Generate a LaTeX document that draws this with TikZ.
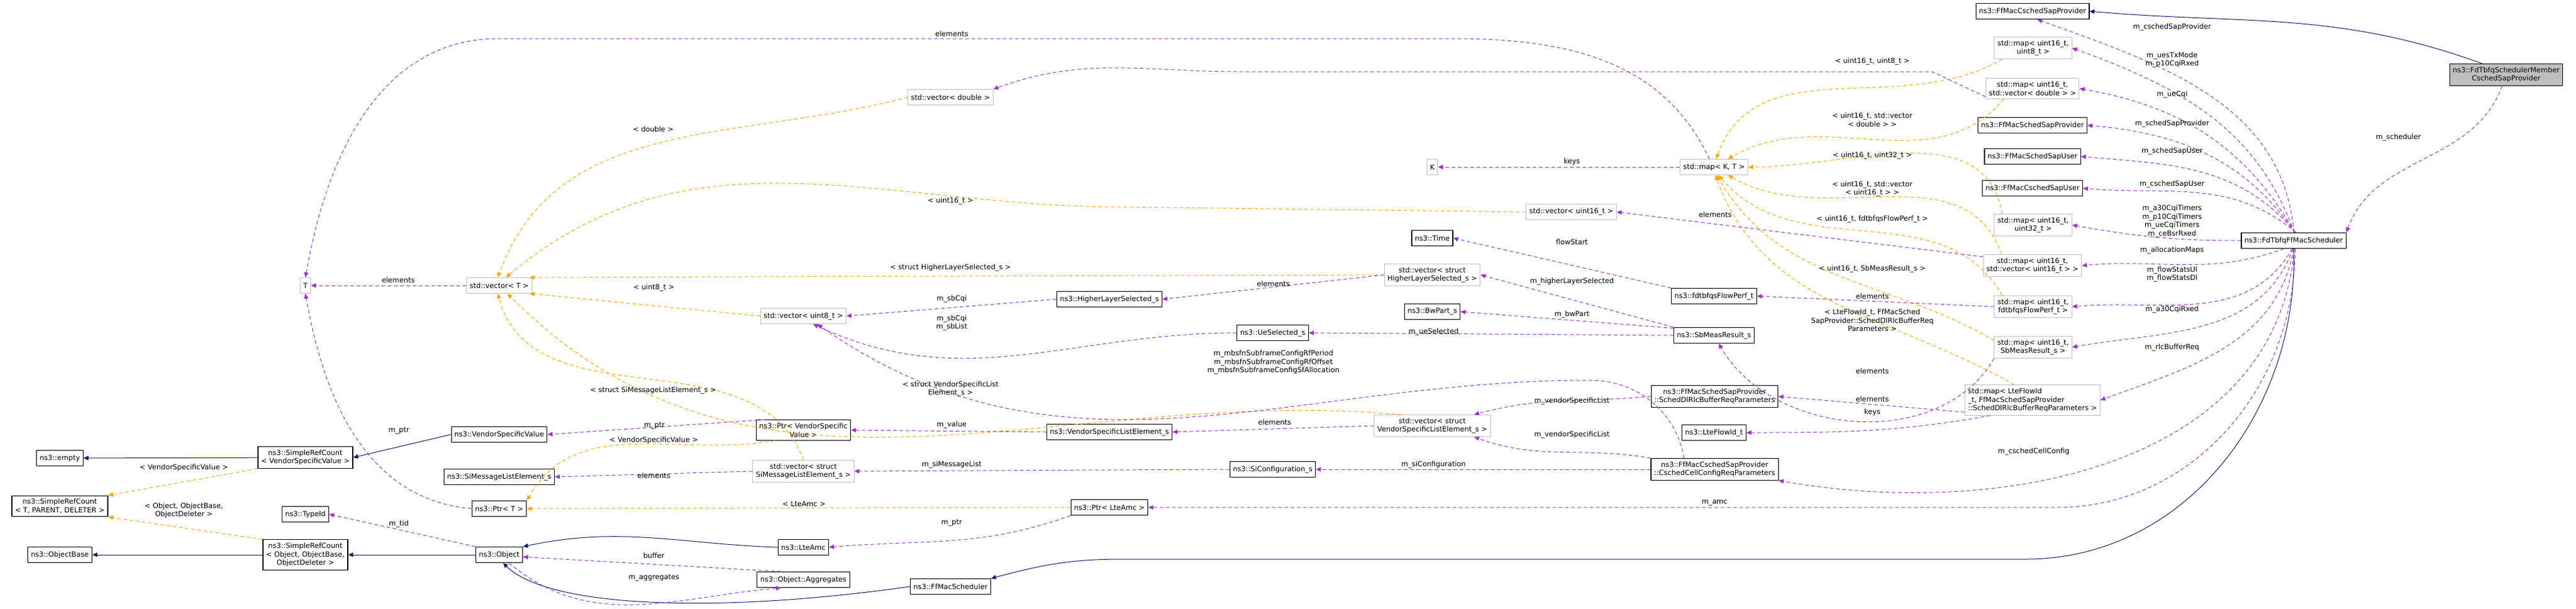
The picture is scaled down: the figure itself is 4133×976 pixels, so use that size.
\documentclass[tikz,border=0pt]{standalone}
\usepackage{fontspec}
\setmainfont{DejaVu Sans}
\usetikzlibrary{arrows.meta}
\definecolor{usecol}{HTML}{9A32CD}
\definecolor{tplcol}{HTML}{FFA500}
\definecolor{inhcol}{HTML}{191970}
\begin{document}
\begin{tikzpicture}[x=0.25pt,y=-0.25pt,
    every node/.style={font=\fontsize{2.85}{3.4}\selectfont},
    cls/.style={rectangle,draw=black,line width=0.28pt,minimum height=6.25pt,inner xsep=1.25pt,inner ysep=1.25pt,align=center},
    tpl/.style={rectangle,draw=black!25,line width=0.25pt,minimum height=6.25pt,inner xsep=1.25pt,inner ysep=1.25pt,align=center},
    main/.style={cls,fill=black!25},
    lbl/.style={inner sep=0.25pt,align=center},
    use/.style={draw=usecol,dash pattern=on 1.5pt off 1pt,line width=0.25pt,-{Triangle[length=2pt,width=1.75pt]}},
    tmpl/.style={draw=tplcol,dash pattern=on 1.5pt off 1pt,line width=0.25pt,-{Triangle[length=2pt,width=1.75pt]}},
    inh/.style={draw=inhcol,line width=0.25pt,-{Triangle[length=2pt,width=1.75pt]}}]
  \useasboundingbox (0,0) rectangle (4133,976);

  % right column
  \node (member) [main] at (4021,120) {ns3::FdTbfqSchedulerMember\\CschedSapProvider};
  \node (sched) [cls] at (3680,386) {ns3::FdTbfqFfMacScheduler};
  \node (cschedprov) [cls] at (3261,18) {ns3::FfMacCschedSapProvider};
  \node (mapu8) [tpl] at (3262,77) {std::map< uint16\_t,\\uint8\_t >};
  \node (mapvd) [tpl] at (3261,142) {std::map< uint16\_t,\\std::vector< double > >};
  \node (schedprov) [cls] at (3261,201) {ns3::FfMacSchedSapProvider};
  \node (schedusr) [cls] at (3261,251) {ns3::FfMacSchedSapUser};
  \node (cschedusr) [cls] at (3261,302) {ns3::FfMacCschedSapUser};
  \node (mapu32) [tpl] at (3262,361) {std::map< uint16\_t,\\uint32\_t >};
  \node (mapvu16) [tpl] at (3261,426) {std::map< uint16\_t,\\std::vector< uint16\_t > >};
  \node (mapflow) [tpl] at (3262,492) {std::map< uint16\_t,\\fdtbfqsFlowPerf\_t >};
  \node (mapsb) [tpl] at (3262,557) {std::map< uint16\_t,\\SbMeasResult\_s >};
  \node (mapfid) [tpl,align=left] at (3261,642) {std::map< LteFlowId\\\_t, FfMacSchedSapProvider\\::SchedDlRlcBufferReqParameters >};

  % middle
  \node (mapkt) [tpl] at (2750,268) {std::map< K, T >};
  \node (keyk) [tpl] at (2298,268) {K};
  \node (vecd) [tpl] at (1525,156) {std::vector< double >};
  \node (vecu16) [tpl] at (2521,340) {std::vector< uint16\_t >};
  \node (time) [cls] at (2298,382) {ns3::Time};
  \node (vechls) [tpl] at (2298,441) {std::vector< struct\\HigherLayerSelected\_s >};
  \node (hls) [cls] at (1780,480) {ns3::HigherLayerSelected\_s};
  \node (flowperf) [cls] at (2750,475) {ns3::fdtbfqsFlowPerf\_t};
  \node (bwpart) [cls] at (2298,500) {ns3::BwPart\_s};
  \node (sbmeas) [cls] at (2750,538) {ns3::SbMeasResult\_s};
  \node (uesel) [cls] at (2042,534) {ns3::UeSelected\_s};
  \node (dlrlc) [cls] at (2751,636) {ns3::FfMacSchedSapProvider\\::SchedDlRlcBufferReqParameters};
  \node (fid) [cls] at (2750,694) {ns3::LteFlowId\_t};
  \node (vecvsle) [tpl] at (2298,683) {std::vector< struct\\VendorSpecificListElement\_s >};
  \node (vsle) [cls] at (1780,693) {ns3::VendorSpecificListElement\_s};
  \node (cellcfg) [cls] at (2751,753) {ns3::FfMacCschedSapProvider\\::CschedCellConfigReqParameters};
  \node (sicfg) [cls] at (2042,753) {ns3::SiConfiguration\_s};
  \node (ptramc) [cls] at (1780,814) {ns3::Ptr< LteAmc >};
  \node (ffsched) [cls] at (1525,941) {ns3::FfMacScheduler};

  % left
  \node (tparam) [tpl] at (490,458) {T};
  \node (vect) [tpl] at (801,458) {std::vector< T >};
  \node (vecu8) [tpl] at (1289,507) {std::vector< uint8\_t >};
  \node (ptrvsv) [cls] at (1289,690) {ns3::Ptr< VendorSpecific\\Value >};
  \node (vsv) [cls] at (801,697) {ns3::VendorSpecificValue};
  \node (srcvsv) [cls] at (490,734) {ns3::SimpleRefCount\\< VendorSpecificValue >};
  \node (empty) [cls] at (96,735) {ns3::empty};
  \node (sim) [cls] at (801,765) {ns3::SiMessageListElement\_s};
  \node (vecsim) [tpl] at (1289,756) {std::vector< struct\\SiMessageListElement\_s >};
  \node (srctpd) [cls] at (96,812) {ns3::SimpleRefCount\\< T, PARENT, DELETER >};
  \node (ptrt) [cls] at (801,816) {ns3::Ptr< T >};
  \node (typeid) [cls] at (490,825) {ns3::TypeId};
  \node (srcobj) [cls] at (490,890) {ns3::SimpleRefCount\\< Object, ObjectBase,\\ObjectDeleter >};
  \node (objbase) [cls] at (96,890) {ns3::ObjectBase};
  \node (object) [cls] at (801,890) {ns3::Object};
  \node (lteamc) [cls] at (1289,878) {ns3::LteAmc};
  \node (aggr) [cls] at (1289,930) {ns3::Object::Aggregates};

  \coordinate (ta) at (2330,62);
  \coordinate (tb) at (800,62);
  \coordinate (da) at (1990,115);
  \coordinate (ua) at (1800,332);
  \coordinate (ia) at (3250,897);
  \coordinate (ib) at (1800,897);
  \coordinate (aa) at (3300,814);
  \coordinate (ma) at (2550,610);

  % inheritance
  \draw[inh] (member.155) to[out=160,in=-5] (cschedprov.east);
  \draw[inh] (srcvsv) -- (empty);
  \draw[inh] (vsv.west) -- (srcvsv.east);
  \draw[inh] (srcobj) -- (objbase);
  \draw[inh] (object) -- (srcobj);
  \draw[inh] (lteamc.west) to[out=178,in=12] (object.north east);
  \draw[inh] (ffsched.west) .. controls (1150,985) and (880,975) .. (object.-65);
  \draw[inh] (sched.south) to[out=-88,in=0] (ia) -- (ib) to[out=180,in=15] (ffsched.north east);

  % templates
  \draw[tmpl] (srcvsv.south west) -- (srctpd.north east);
  \draw[tmpl] (srcobj.north west) -- (srctpd.south east);
  \draw[tmpl] (ptrvsv.200) to[out=190,in=60] (ptrt.north east);
  \draw[tmpl] (ptramc.west) -- (ptrt.east);
  \draw[tmpl] (vecu8.west) -- (vect.-15);
  \draw[tmpl] (vecsim.north) to[out=110,in=-75] (vect.-100);
  \draw[tmpl] (vecvsle.160) to[out=175,in=-45] (vect.-45);
  \draw[tmpl] (vechls.west) -- (vect.15);
  \draw[tmpl] (vecu16.west) -- (ua) to[out=180,in=40] (vect.50);
  \draw[tmpl] (vecd.west) to[out=195,in=70] (vect.100);
  \draw[tmpl] (mapu8.200) to[out=210,in=70] (mapkt.75);
  \draw[tmpl] (mapvd.200) to[out=230,in=30] (mapkt.30);
  \draw[tmpl] (mapu32.160) to[out=100,in=0] (mapkt.east);
  \draw[tmpl] (mapvu16.160) to[out=110,in=-30] (mapkt.-30);
  \draw[tmpl] (mapflow.160) to[out=120,in=-50] (mapkt.-60);
  \draw[tmpl] (mapsb.170) to[out=150,in=-60] (mapkt.-70);
  \draw[tmpl] (mapfid.140) to[out=150,in=-70] (mapkt.-80);

  % members
  \draw[use] (vect.west) -- (tparam.east);
  \draw[use] (mapkt.120) to[out=115,in=0] (ta) -- (tb) to[out=180,in=80] (tparam.north);
  \draw[use] (mapkt.west) -- (keyk.east);
  \draw[use] (ptrt.west) to[out=175,in=-80] (tparam.south);
  \draw[use] (ptrvsv.165) -- (vsv.east);
  \draw[use] (object.north west) -- (typeid.east);
  \draw[use] (aggr.160) -- (object.-5);
  \draw[use] (object.-40) to[out=-40,in=185] (aggr.200);
  \draw[use] (ptramc.south west) to[out=200,in=5] (lteamc.east);
  \draw[use] (vecsim.west) -- (sim.east);
  \draw[use] (vsle.west) -- (ptrvsv.east);
  \draw[use] (vecvsle.west) -- (vsle.east);
  \draw[use] (sicfg.west) -- (vecsim.east);
  \draw[use] (cellcfg.west) -- (sicfg.east);
  \draw[use] (cellcfg.north west) to[out=170,in=-20] (vecvsle.-15);
  \draw[use] (dlrlc.west) to[out=185,in=15] (vecvsle.15);
  \draw[use] (cellcfg.160) to[out=100,in=0] (ma) to[out=180,in=-35] (vecu8.-30);
  \draw[use] (uesel.west) to[out=180,in=-25] (vecu8.-40);
  \draw[use] (hls.west) -- (vecu8.east);
  \draw[use] (vechls.west) -- (hls.east);
  \draw[use] (sbmeas.north west) -- (vechls.east);
  \draw[use] (sbmeas.170) -- (bwpart.east);
  \draw[use] (sbmeas.west) -- (uesel.east);
  \draw[use] (flowperf.north west) -- (time.east);
  \draw[use] (mapvu16.170) -- (vecu16.east);
  \draw[use] (mapvd.190) -- (3100,115) -- (da) to[out=180,in=20] (vecd.north east);
  \draw[use] (mapflow.west) -- (flowperf.east);
  \draw[use] (mapsb.south west) to[out=-120,in=-60] (sbmeas.-60);
  \draw[use] (mapfid.190) -- (dlrlc.east);
  \draw[use] (mapfid.200) to[out=190,in=0] (fid.east);

  % scheduler members
  \draw[use] (member.-110) to[out=-110,in=70] (sched.north east);
  \draw[use] (sched.88) to[out=95,in=-20] (cschedprov.-60);
  \draw[use] (sched.85) to[out=110,in=-20] (mapu8.east);
  \draw[use] (sched.82) to[out=120,in=-10] (mapvd.east);
  \draw[use] (sched.80) to[out=125,in=-5] (schedprov.east);
  \draw[use] (sched.77) to[out=130,in=-5] (schedusr.east);
  \draw[use] (sched.74) to[out=140,in=-5] (cschedusr.east);
  \draw[use] (sched.west) to[out=180,in=-10] (mapu32.east);
  \draw[use] (sched.-140) to[out=200,in=5] (mapvu16.east);
  \draw[use] (sched.-100) to[out=240,in=5] (mapflow.east);
  \draw[use] (sched.-95) to[out=250,in=10] (mapsb.east);
  \draw[use] (sched.-90) to[out=260,in=20] (mapfid.east);
  \draw[use] (sched.-85) to[out=265,in=-10] (cellcfg.south east);
  \draw[use] (sched.-80) to[out=270,in=0] (aa) -- (ptramc.east);

  % labels
  \node (l1) [lbl] at (639,449) {elements};
  \node (l2) [lbl] at (1527,54) {elements};
  \node (l3) [lbl] at (2522,259) {keys};
  \node (l4) [lbl] at (1049,461) {< uint8\_t >};
  \node (l5) [lbl] at (1048,207) {< double >};
  \node (l6) [lbl] at (1525,323) {< uint16\_t >};
  \node (l7) [lbl] at (1525,429) {< struct HigherLayerSelected\_s >};
  \node (l8) [lbl] at (1048,626) {< struct SiMessageListElement\_s >};
  \node (l9) [lbl] at (1525,624) {< struct VendorSpecificList\\Element\_s >};
  \node (l10) [lbl] at (1050,683) {m\_ptr};
  \node (l11) [lbl] at (1049,706) {< VendorSpecificValue >};
  \node (l12) [lbl] at (640,691) {m\_ptr};
  \node (l13) [lbl] at (295,750) {< VendorSpecificValue >};
  \node (l14) [lbl] at (295,819) {< Object, ObjectBase,\\ObjectDeleter >};
  \node (l15) [lbl] at (1049,763) {elements};
  \node (l16) [lbl] at (1290,808) {< LteAmc >};
  \node (l17) [lbl] at (640,840) {m\_tid};
  \node (l18) [lbl] at (1049,891) {buffer};
  \node (l19) [lbl] at (1049,927) {m\_aggregates};
  \node (l20) [lbl] at (2043,455) {elements};
  \node (l21) [lbl] at (1527,479) {m\_sbCqi};
  \node (l22) [lbl] at (2522,388) {flowStart};
  \node (l23) [lbl] at (2522,451) {m\_higherLayerSelected};
  \node (l24) [lbl] at (2752,344) {elements};
  \node (l25) [lbl] at (1527,518) {m\_sbCqi\\m\_sbList};
  \node (l26) [lbl] at (2522,504) {m\_bwPart};
  \node (l27) [lbl] at (2300,532) {m\_ueSelected};
  \node (l28) [lbl] at (2043,581) {m\_mbsfnSubframeConfigRfPeriod\\m\_mbsfnSubframeConfigRfOffset\\m\_mbsfnSubframeConfigSfAllocation};
  \node (l29) [lbl] at (1527,681) {m\_value};
  \node (l30) [lbl] at (2045,677) {elements};
  \node (l31) [lbl] at (2522,643) {m\_vendorSpecificList};
  \node (l32) [lbl] at (2522,697) {m\_vendorSpecificList};
  \node (l33) [lbl] at (1527,745) {m\_siMessageList};
  \node (l34) [lbl] at (2300,745) {m\_siConfiguration};
  \node (l35) [lbl] at (2751,807) {m\_amc};
  \node (l36) [lbl] at (1527,839) {m\_ptr};
  \node (l37) [lbl] at (3004,99) {< uint16\_t, uint8\_t >};
  \node (l38) [lbl] at (3004,192) {< uint16\_t, std::vector\\< double > >};
  \node (l39) [lbl] at (3004,250) {< uint16\_t, uint32\_t >};
  \node (l40) [lbl] at (3004,303) {< uint16\_t, std::vector\\< uint16\_t > >};
  \node (l41) [lbl] at (3004,352) {< uint16\_t, fdtbfqsFlowPerf\_t >};
  \node (l42) [lbl] at (3004,431) {< uint16\_t, SbMeasResult\_s >};
  \node (l43) [lbl] at (3004,475) {elements};
  \node (l44) [lbl] at (3004,514) {< LteFlowId\_t, FfMacSched\\SapProvider::SchedDlRlcBufferReq\\Parameters >};
  \node (l45) [lbl] at (3004,595) {elements};
  \node (l46) [lbl] at (3004,640) {elements};
  \node (l47) [lbl] at (3004,661) {keys};
  \node (l48) [lbl] at (3263,724) {m\_cschedCellConfig};
  \node (l49) [lbl] at (3485,44) {m\_cschedSapProvider};
  \node (l50) [lbl] at (3485,96) {m\_uesTxMode\\m\_p10CqiRxed};
  \node (l51) [lbl] at (3485,152) {m\_ueCqi};
  \node (l52) [lbl] at (3485,199) {m\_schedSapProvider};
  \node (l53) [lbl] at (3485,243) {m\_schedSapUser};
  \node (l54) [lbl] at (3485,296) {m\_cschedSapUser};
  \node (l55) [lbl] at (3485,355) {m\_a30CqiTimers\\m\_p10CqiTimers\\m\_ueCqiTimers\\m\_ceBsrRxed};
  \node (l56) [lbl] at (3485,401) {m\_allocationMaps};
  \node (l57) [lbl] at (3485,440) {m\_flowStatsUl\\m\_flowStatsDl};
  \node (l58) [lbl] at (3485,496) {m\_a30CqiRxed};
  \node (l59) [lbl] at (3485,557) {m\_rlcBufferReq};
  \node (l60) [lbl] at (3848,221) {m\_scheduler};
\end{tikzpicture}
\end{document}
